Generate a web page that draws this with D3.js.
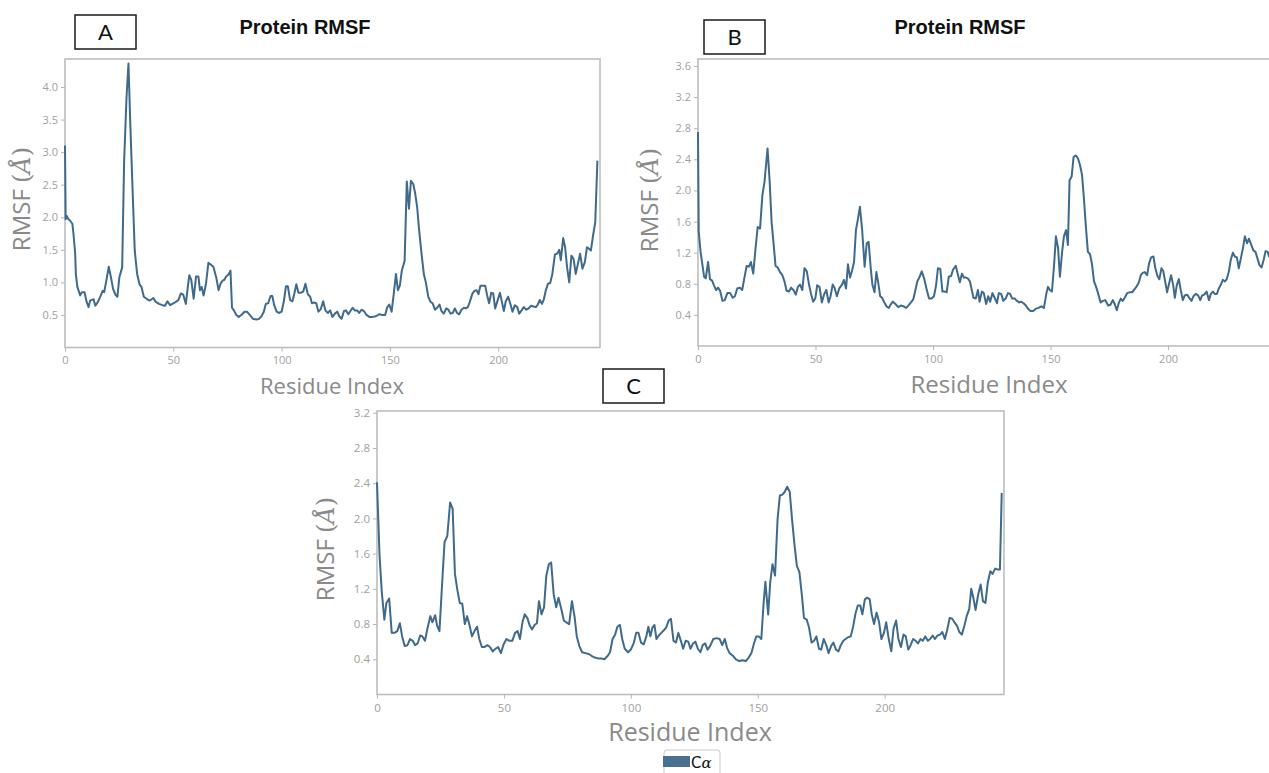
<!DOCTYPE html>
<html>
<head>
<meta charset="utf-8">
<script src="https://cdn.jsdelivr.net/npm/d3@7"></script>
<style>
  body { margin: 0; background: #fff; }
  svg { display: block; }
  .tick text { fill: #a0a0a0; font-family: 'Open Sans', sans-serif; }
  .tick line { stroke: #b5b5b5; }
</style>
</head>
<body>
<script>
'use strict'

// residue index / RMSF (Å)
const residuesA = [0,0.3,0.8,1.6,2.3,3.4,3.9,4.7,5.0,5.7,7.0,7.8,9.0,10.0,10.9,11.6,13.2,14.0,15.2,16.3,17.4,18.1,19.1,20.2,21.2,22.2,23.3,24.2,25.1,26.4,27.3,28.4,29.3,30.2,31.0,32.2,33.3,34.4,35.3,36.4,38.0,39.0,40.0,40.8,41.9,43.4,45.0,46.2,47.3,48.5,49.6,51.2,52.4,53.5,54.6,55.8,56.7,57.4,58.3,59.4,60.5,61.6,62.3,63.1,64.0,65.1,66.2,67.4,68.5,69.8,70.9,71.8,72.9,73.6,74.4,75.5,76.4,77.1,78.0,79.1,80.2,81.4,82.9,84.0,85.3,86.8,88.4,89.6,90.7,91.8,92.7,93.8,94.9,95.7,96.6,97.7,98.9,100.0,101.1,102.0,102.9,103.9,105.0,105.9,106.8,107.8,108.8,110.0,111.0,112.1,113.2,114.0,115.0,116.0,117.0,118.1,119.2,120.2,121.4,122.4,123.5,124.6,125.7,126.6,127.7,128.8,129.7,130.8,131.8,132.8,133.8,134.9,135.8,136.9,138.0,139.2,140.5,142.0,143.5,145.0,146.6,147.8,148.8,149.7,150.8,151.8,152.8,153.7,154.6,155.5,156.8,157.8,158.8,159.7,160.8,161.7,162.6,163.5,164.6,165.7,166.6,167.7,168.8,169.7,170.8,171.8,172.9,173.8,174.9,176.0,177.0,178.0,179.0,180.0,181.0,182.0,183.0,184.2,185.0,186.0,186.9,188.0,189.0,190.0,190.9,191.8,193.0,194.0,194.9,195.8,196.8,197.7,198.6,199.7,200.8,201.7,202.6,203.5,204.6,205.7,206.6,207.7,208.8,209.7,210.8,211.8,213.0,214.0,215.2,216.3,217.4,218.3,219.2,220.2,221.0,222.0,223.0,224.0,225.0,226.2,227.2,228.2,228.9,230.0,230.9,231.8,232.8,233.8,234.8,235.8,236.9,237.8,238.9,240.0,241.0,241.8,242.8,243.8,244.8,245.8];
const rmsfA = [3.10,1.97,2.02,1.97,1.95,1.90,1.75,1.44,1.13,0.93,0.80,0.85,0.85,0.70,0.62,0.72,0.74,0.64,0.70,0.78,0.87,0.85,1.03,1.24,1.08,0.90,0.81,0.78,1.08,1.23,2.86,3.84,4.36,3.38,2.61,1.49,1.13,0.97,0.93,0.78,0.74,0.72,0.74,0.76,0.70,0.67,0.65,0.64,0.71,0.65,0.67,0.70,0.73,0.83,0.81,0.67,0.93,1.11,1.04,0.75,1.09,1.09,0.88,0.93,0.80,0.98,1.30,1.27,1.24,1.08,0.88,0.98,1.03,1.04,1.09,1.12,1.18,0.61,0.57,0.50,0.47,0.50,0.55,0.55,0.50,0.44,0.43,0.44,0.48,0.55,0.67,0.68,0.79,0.79,0.65,0.55,0.53,0.55,0.72,0.94,0.94,0.73,0.71,0.83,0.97,0.84,0.84,0.86,0.98,0.82,0.78,0.68,0.69,0.68,0.55,0.59,0.71,0.57,0.53,0.57,0.47,0.52,0.55,0.48,0.44,0.56,0.57,0.51,0.56,0.61,0.57,0.57,0.53,0.58,0.56,0.50,0.47,0.47,0.48,0.51,0.50,0.50,0.62,0.66,0.55,0.83,1.13,0.88,0.95,1.18,1.33,2.55,2.13,2.56,2.51,2.36,2.15,1.80,1.44,1.12,1.00,0.78,0.70,0.68,0.58,0.61,0.66,0.56,0.52,0.60,0.58,0.52,0.53,0.60,0.53,0.51,0.58,0.61,0.60,0.62,0.70,0.82,0.87,0.88,0.82,0.95,0.95,0.95,0.80,0.68,0.84,0.83,0.60,0.72,0.84,0.70,0.56,0.71,0.78,0.66,0.55,0.65,0.62,0.52,0.57,0.62,0.58,0.60,0.64,0.63,0.62,0.66,0.73,0.67,0.73,0.88,0.98,0.99,1.13,1.43,1.44,1.50,1.34,1.68,1.54,1.23,1.00,1.41,1.36,1.13,1.30,1.44,1.21,1.31,1.54,1.52,1.49,1.72,1.92,2.87];

const residuesB = [0,0.3,1.1,1.9,2.6,3.3,4.3,5.1,6.0,6.8,7.7,8.5,9.4,10.4,11.4,12.5,13.7,14.8,15.7,16.7,17.8,18.8,19.7,20.7,21.7,22.5,23.5,24.5,25.4,26.4,27.4,28.3,29.6,30.5,31.3,32.2,33.0,33.9,34.9,35.9,36.8,37.7,38.7,39.6,40.6,41.6,42.5,43.4,44.4,45.3,46.3,47.3,48.1,49.0,49.9,50.7,51.7,52.7,53.6,54.6,55.6,56.4,57.3,58.1,59.1,60.1,61.3,62.1,63.0,63.8,64.7,65.5,66.4,67.2,68.1,68.9,69.8,70.9,71.8,72.6,73.5,74.2,75.1,75.9,76.6,77.5,78.3,79.3,80.2,81.2,81.9,82.9,84.0,85.2,86.3,87.5,88.6,89.5,90.6,91.6,92.3,93.3,94.3,95.2,96.2,97.2,98.3,99.4,100.4,101.3,102.1,103.1,104.0,105.0,105.8,106.7,107.7,108.5,109.7,110.5,111.4,112.3,113.1,114.0,114.8,115.7,116.5,117.2,118.2,119.1,119.8,120.8,121.6,122.6,123.5,124.3,125.3,126.2,127.2,128.0,129.0,129.9,130.9,131.9,132.8,133.7,134.7,135.7,136.7,137.5,138.5,139.5,140.4,141.5,142.6,143.8,144.9,146.1,147.2,148.2,148.9,149.7,150.6,151.5,152.3,153.2,154.0,154.9,155.7,156.6,157.4,158.1,159.0,159.8,160.8,161.7,162.5,163.4,164.2,165.1,165.9,166.8,167.6,168.5,169.4,170.2,171.3,172.3,173.3,174.5,175.5,176.5,177.3,178.2,179.0,179.9,180.7,181.6,182.6,183.6,184.7,185.5,186.5,187.5,188.4,189.2,190.1,191.1,191.9,192.8,193.8,194.6,195.5,196.3,197.2,198.0,198.9,199.6,200.5,201.3,202.2,202.9,203.7,204.6,205.4,206.3,207.1,208.1,209.0,210.0,210.8,211.8,212.8,213.7,214.5,215.4,216.4,217.4,218.2,219.1,219.9,220.8,221.6,222.5,223.3,224.2,225.0,225.9,226.7,227.6,228.4,229.3,230.1,231.0,232.0,232.7,233.6,234.4,235.3,236.3,237.2,238.1,238.9,239.8,240.7,241.5,242.4,243.1];
const rmsfB = [2.75,1.47,1.21,1.04,0.89,0.87,1.08,0.86,0.84,0.78,0.72,0.75,0.71,0.58,0.59,0.68,0.68,0.62,0.64,0.74,0.75,0.72,0.87,1.03,1.02,1.08,0.93,1.26,1.53,1.51,1.94,2.11,2.54,2.11,1.60,1.30,1.03,1.01,0.95,0.91,0.83,0.71,0.70,0.75,0.72,0.66,0.76,0.79,0.72,1.00,0.96,0.78,0.67,0.57,0.61,0.78,0.76,0.56,0.66,0.72,0.56,0.64,0.79,0.75,0.64,0.74,0.79,0.85,0.74,1.05,0.88,0.96,1.08,1.49,1.64,1.79,1.51,1.02,1.32,1.34,1.00,0.79,0.69,0.95,0.83,0.64,0.62,0.56,0.51,0.49,0.53,0.57,0.54,0.50,0.52,0.51,0.49,0.52,0.56,0.60,0.69,0.83,0.89,0.96,0.87,0.74,0.61,0.61,0.64,0.78,1.00,0.99,0.70,0.70,0.69,0.89,0.90,0.98,1.03,0.93,0.82,0.93,0.88,0.88,0.87,0.83,0.72,0.62,0.61,0.72,0.57,0.70,0.68,0.54,0.64,0.57,0.68,0.62,0.55,0.68,0.67,0.58,0.61,0.68,0.67,0.61,0.61,0.58,0.56,0.57,0.55,0.52,0.48,0.45,0.45,0.48,0.49,0.51,0.49,0.67,0.76,0.72,0.70,1.04,1.41,1.26,0.89,1.20,1.41,1.49,1.30,2.13,2.18,2.43,2.45,2.41,2.33,2.20,1.90,1.51,1.21,1.18,1.06,0.83,0.76,0.68,0.56,0.58,0.59,0.52,0.53,0.59,0.54,0.46,0.55,0.61,0.58,0.62,0.68,0.69,0.69,0.72,0.76,0.81,0.91,0.94,0.95,0.91,1.06,1.14,1.15,1.00,0.90,0.86,1.00,0.96,0.81,0.69,0.81,0.91,0.78,0.62,0.78,0.86,0.72,0.59,0.65,0.66,0.62,0.58,0.64,0.67,0.65,0.59,0.65,0.66,0.70,0.59,0.67,0.70,0.67,0.67,0.74,0.79,0.85,0.83,0.86,0.96,1.11,1.20,1.15,1.14,1.00,1.13,1.28,1.41,1.32,1.38,1.31,1.23,1.21,1.12,1.04,1.01,1.11,1.22,1.21,1.14];

const residuesC = [0,1.0,1.9,2.9,3.7,4.8,5.8,6.9,8.0,9.0,9.9,10.9,12.0,13.0,14.1,15.0,16.0,17.0,17.9,18.9,19.8,21.0,21.8,22.9,23.7,24.6,25.6,26.6,27.7,28.8,29.8,30.7,31.7,32.6,33.6,34.6,35.5,36.5,37.4,38.4,39.4,40.3,41.3,42.4,43.5,44.5,45.6,46.7,47.7,48.8,49.9,51.0,52.2,53.3,54.4,55.4,56.3,57.3,58.2,59.2,60.2,61.1,62.1,63.0,63.8,64.8,65.8,66.7,67.7,68.6,69.6,70.6,71.5,72.6,73.6,74.6,75.7,76.8,77.8,78.7,79.7,80.8,82.1,83.4,84.5,85.8,87.0,88.3,89.6,90.9,91.8,92.8,93.8,94.7,95.7,96.6,97.6,98.9,100.0,101.1,102.1,103.0,104.0,105.1,106.1,106.9,107.7,108.5,109.3,110.1,111.0,112.0,113.0,113.9,114.9,115.8,116.8,117.8,118.7,119.7,120.6,121.6,122.6,123.5,124.5,125.4,126.4,127.4,128.3,129.3,130.2,131.2,132.5,133.8,135.0,136.0,137.0,137.9,138.9,140.2,141.4,142.7,144.0,145.3,146.4,147.5,148.5,149.4,150.4,151.4,152.3,153.0,154.1,154.9,155.8,156.8,157.8,158.7,159.7,160.6,161.6,162.6,163.5,164.5,165.4,166.4,167.4,168.2,169.3,170.2,171.2,172.2,173.1,174.1,175.0,176.0,177.0,177.9,178.9,179.8,180.8,181.8,182.7,183.7,184.6,185.6,186.6,187.5,188.5,189.4,190.4,191.2,192.2,193.1,194.1,194.9,195.8,196.8,197.8,198.7,199.7,200.6,201.6,202.6,203.5,204.5,205.4,206.4,207.4,208.3,209.3,210.2,211.2,212.2,213.1,214.1,215.0,216.0,217.0,217.9,218.9,219.8,220.8,221.8,222.7,223.7,224.6,225.6,226.6,227.5,228.5,229.4,230.4,231.4,232.3,233.3,234.1,234.9,235.8,236.8,237.8,238.7,239.7,240.6,241.6,242.5,243.5,244.5,245.4,246.1];
const rmsfC = [2.41,1.58,1.16,0.85,1.04,1.09,0.70,0.70,0.72,0.81,0.66,0.55,0.56,0.63,0.61,0.56,0.58,0.67,0.66,0.61,0.74,0.89,0.82,0.90,0.78,0.72,1.23,1.73,1.80,2.18,2.11,1.37,1.18,1.04,1.03,0.80,0.89,0.78,0.66,0.72,0.77,0.63,0.54,0.54,0.56,0.54,0.49,0.52,0.54,0.47,0.57,0.63,0.61,0.61,0.70,0.72,0.63,0.82,0.91,0.87,0.78,0.74,0.79,0.81,1.06,0.91,0.99,1.35,1.48,1.50,1.14,0.99,1.10,0.97,0.84,0.82,0.80,1.06,0.89,0.66,0.55,0.48,0.47,0.46,0.44,0.42,0.41,0.41,0.40,0.44,0.48,0.63,0.68,0.77,0.79,0.63,0.52,0.48,0.51,0.58,0.70,0.70,0.59,0.57,0.66,0.77,0.66,0.76,0.79,0.63,0.67,0.70,0.73,0.76,0.84,0.86,0.61,0.59,0.70,0.61,0.52,0.61,0.60,0.52,0.58,0.60,0.52,0.48,0.56,0.58,0.51,0.55,0.63,0.64,0.63,0.56,0.63,0.53,0.47,0.44,0.40,0.38,0.39,0.38,0.42,0.47,0.58,0.66,0.66,0.63,1.04,1.28,0.91,1.27,1.48,1.35,1.99,2.26,2.27,2.30,2.36,2.30,1.99,1.69,1.46,1.39,1.12,0.87,0.85,0.76,0.59,0.61,0.66,0.52,0.51,0.63,0.56,0.47,0.55,0.59,0.51,0.49,0.56,0.61,0.63,0.65,0.66,0.76,0.92,1.01,1.01,0.91,1.08,1.10,1.08,0.91,0.80,0.93,0.82,0.63,0.70,0.82,0.63,0.49,0.75,0.84,0.63,0.54,0.68,0.66,0.51,0.56,0.63,0.61,0.58,0.63,0.61,0.66,0.61,0.63,0.67,0.63,0.67,0.68,0.71,0.63,0.73,0.87,0.86,0.82,0.78,0.71,0.68,0.78,0.89,0.97,1.20,1.10,0.96,1.13,1.25,1.06,1.04,1.27,1.40,1.37,1.43,1.42,1.42,2.29];

const xTicks = [0, 50, 100, 150, 200];
const yTicksA = [0.5, 1.0, 1.5, 2.0, 2.5, 3.0, 3.5, 4.0];
const yTicksB = [0.4, 0.8, 1.2, 1.6, 2.0, 2.4, 2.8, 3.2, 3.6];
const yTicksC = [0.4, 0.8, 1.2, 1.6, 2.0, 2.4, 2.8, 3.2];

const LINE = '#3f6a8b';

let svg = d3.select('body').append('svg')
    .attr('width', 1269)
    .attr('height', 773);

function drawPanel(p) {
    let g = svg.append('g');

    let x = d3.scaleLinear().domain([0, 247]).range([p.left, p.right]);
    let y = d3.scaleLinear().domain([0, p.yMax]).range([p.bottom, p.top]);

    // plot frame
    g.append('rect')
        .attr('x', p.left)
        .attr('y', p.top)
        .attr('width', p.right - p.left)
        .attr('height', p.bottom - p.top)
        .attr('fill', 'none')
        .attr('stroke', '#bdbdbd')
        .attr('stroke-width', 1.6);

    g.append('g')
        .attr('transform', 'translate(' + p.left + ',0)')
        .call(d3.axisLeft(y).tickValues(p.yTicks).tickFormat(d3.format('.1f')).tickSize(4).tickPadding(3))
        .call(a => a.select('.domain').remove())
        .selectAll('text').style('font-size', p.tickSize + 'px');

    g.append('g')
        .attr('transform', 'translate(0,' + p.bottom + ')')
        .call(d3.axisBottom(x).tickValues(xTicks).tickSize(4).tickPadding(5))
        .call(a => a.select('.domain').remove())
        .selectAll('text').style('font-size', p.tickSize + 'px');

    let pts = p.residues.map((r, i) => [r, p.values[i]]);
    g.append('path')
        .datum(pts)
        .attr('fill', 'none')
        .attr('stroke', LINE)
        .attr('stroke-width', 2)
        .attr('stroke-linejoin', 'round')
        .attr('d', d3.line().x(d => x(d[0])).y(d => y(d[1])));

    // axis titles
    g.append('text')
        .attr('x', p.xTitle[0])
        .attr('y', p.xTitle[1])
        .attr('text-anchor', 'middle')
        .style('font-family', "'Open Sans', sans-serif")
        .style('font-size', p.titleSize + 'px')
        .style('fill', '#8a8a8a')
        .text('Residue Index');

    let yt = g.append('text')
        .attr('transform', 'translate(' + p.yTitle[0] + ',' + p.yTitle[1] + ') rotate(-90)')
        .attr('text-anchor', 'middle')
        .style('font-family', "'Open Sans', sans-serif")
        .style('font-size', p.yTitleSize + 'px')
        .style('fill', '#8a8a8a');
    yt.append('tspan').text('RMSF ');
    yt.append('tspan').style('font-family', "'DejaVu Serif', serif").text('(');
    yt.append('tspan').style('font-family', "'DejaVu Serif', serif").style('font-style', 'italic').text('Å');
    yt.append('tspan').style('font-family', "'DejaVu Serif', serif").text(')');

    // panel letter box
    g.append('rect')
        .attr('x', p.box[0]).attr('y', p.box[1])
        .attr('width', 61).attr('height', 34)
        .attr('fill', '#fff')
        .attr('stroke', '#1a1a1a')
        .attr('stroke-width', 1.5);
    g.append('text')
        .attr('x', p.box[0] + 30.5)
        .attr('y', p.box[1] + 25)
        .attr('text-anchor', 'middle')
        .style('font-family', 'Lato, sans-serif')
        .style('font-size', '22px')
        .style('fill', '#111')
        .text(p.letter);

    if (p.heading) {
        g.append('text')
            .attr('x', p.heading[0])
            .attr('y', p.heading[1])
            .attr('text-anchor', 'middle')
            .style('font-family', "'Liberation Sans', Arial, sans-serif")
            .style('font-weight', 'bold')
            .style('font-size', '20px')
            .style('fill', '#111')
            .text('Protein RMSF');
    }
}

drawPanel({
    left: 65, right: 600, top: 59, bottom: 347.5, yMax: 4.43,
    yTicks: yTicksA, residues: residuesA, values: rmsfA, tickSize: 11,
    xTitle: [332, 394], yTitle: [30, 199], titleSize: 22, yTitleSize: 24,
    box: [75, 15], letter: 'A', heading: [305, 34]
});

drawPanel({
    left: 698, right: 1278.5, top: 59, bottom: 346, yMax: 3.69,
    yTicks: yTicksB, residues: residuesB, values: rmsfB, tickSize: 11,
    xTitle: [989, 393], yTitle: [658, 200], titleSize: 24, yTitleSize: 24,
    box: [704, 20], letter: 'B', heading: [960, 34]
});

drawPanel({
    left: 377, right: 1004, top: 411, bottom: 694.5, yMax: 3.22,
    yTicks: yTicksC, residues: residuesC, values: rmsfC, tickSize: 11.5,
    xTitle: [690, 741], yTitle: [334, 549], titleSize: 25, yTitleSize: 24,
    box: [603, 369], letter: 'C', heading: null
});

// legend
let lg = svg.append('g');
lg.append('rect')
    .attr('x', 664).attr('y', 750)
    .attr('width', 56).attr('height', 30)
    .attr('rx', 3)
    .attr('fill', '#fff')
    .attr('stroke', '#c8c8c8');
lg.append('rect')
    .attr('x', 663).attr('y', 756)
    .attr('width', 27).attr('height', 11)
    .attr('fill', '#4a7090');
let lt = lg.append('text')
    .attr('x', 691).attr('y', 768)
    .style('font-family', "'DejaVu Sans', sans-serif")
    .style('font-size', '15px')
    .style('fill', '#111');
lt.append('tspan').text('C');
lt.append('tspan').style('font-family', "'DejaVu Serif', serif").style('font-style', 'italic').text('α');
</script>
</body>
</html>
